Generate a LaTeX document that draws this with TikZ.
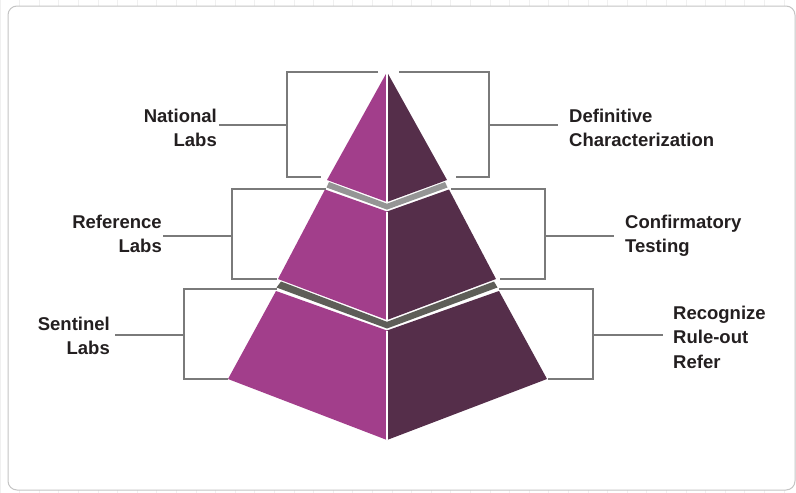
\documentclass[tikz,border=0pt]{standalone}
\usepackage{fontspec}
\setmainfont{Liberation Sans}
\definecolor{leftc}{HTML}{A23E8B}
\definecolor{rightc}{HTML}{552E4A}
\definecolor{bandone}{HTML}{959595}
\definecolor{bandtwo}{HTML}{5E5E58}
\definecolor{linec}{HTML}{7A7A7A}
\definecolor{textc}{HTML}{231F20}
\definecolor{gridc}{HTML}{F0F0F0}
\definecolor{framec}{HTML}{C4C4C4}
\begin{document}
\begin{tikzpicture}[x=1pt,y=-1pt,
  lface/.style={fill=leftc},
  rface/.style={fill=rightc},
  bracket/.style={draw=linec,line width=1.1pt},
  lbl/.style={font=\fontsize{18.5}{24.5}\selectfont\bfseries,text=textc,inner sep=0pt}]
\useasboundingbox (0,0) rectangle (796,493);
% background grid and frame
\draw[gridc,line width=0.8pt,step=19.6] (0,0) grid (796,493);
\draw[framec,fill=white,line width=1pt,rounded corners=9pt] (8,6) rectangle (795,490);

% pyramid faces
\path[lface] (387,72) -- (327,180) -- (387,202) -- cycle;
\path[rface] (387,72) -- (447,180) -- (387,202) -- cycle;
\path[fill=bandone] (329,182) -- (387,203.7) -- (445,182) -- (447.5,187.5) -- (387,209.6) -- (326.5,187.5) -- cycle;
\path[lface] (325,189.5) -- (387,211.5) -- (387,320) -- (278,279) -- cycle;
\path[rface] (449,189.5) -- (387,211.5) -- (387,320) -- (496,279) -- cycle;
\path[fill=bandtwo] (281,281.5) -- (387,321.8) -- (494,281.5) -- (497.5,287.5) -- (387,328.5) -- (276.5,287.5) -- cycle;
\path[lface] (276,291) -- (387,330.5) -- (387,440) -- (228,379) -- cycle;
\path[rface] (499,291) -- (387,330.5) -- (387,440) -- (547,379) -- cycle;
\draw[white,line width=1.2pt] (387,72) -- (387,202);
\draw[white,line width=1.2pt] (387,211.5) -- (387,320);
\draw[white,line width=1.2pt] (387,330.5) -- (387,440);

% labels
\node[lbl,align=right,anchor=north east] (nat) at (217,108.5) {National\\Labs};
\node[lbl,align=right,anchor=north east] (ref) at (162,214.5) {Reference\\Labs};
\node[lbl,align=right,anchor=north east] (sen) at (110,316.5) {Sentinel\\Labs};
\node[lbl,align=left,anchor=north west] (def) at (569,108.5) {Definitive\\Characterization};
\node[lbl,align=left,anchor=north west] (con) at (625,214.5) {Confirmatory\\Testing};
\node[lbl,align=left,anchor=north west] (rec) at (673,305.5) {Recognize\\Rule-out\\Refer};

% bracket coordinates
\coordinate (natm) at (287,125);
\coordinate (defm) at (489,125);
\coordinate (refm) at (232,236);
\coordinate (conm) at (545,236);
\coordinate (senm) at (184,335);
\coordinate (recm) at (593,335);

% brackets
\draw[bracket] (378,72) -| (natm) |- (321,177);
\draw[bracket] ([xshift=2pt]nat.east |- natm) -- (natm);
\draw[bracket] (399,72) -| (defm) |- (456,177);
\draw[bracket] (defm) -- ([xshift=-11pt]def.west |- defm);
\draw[bracket] (326,189) -| (refm) |- (277,279);
\draw[bracket] ([xshift=1pt]ref.east |- refm) -- (refm);
\draw[bracket] (451,189) -| (conm) |- (500,279);
\draw[bracket] (conm) -- ([xshift=-11pt]con.west |- conm);
\draw[bracket] (277,289) -| (senm) |- (228,379);
\draw[bracket] ([xshift=5pt]sen.east |- senm) -- (senm);
\draw[bracket] (499,289) -| (recm) |- (548,379);
\draw[bracket] (recm) -- ([xshift=-10pt]rec.west |- recm);
\end{tikzpicture}
\end{document}
